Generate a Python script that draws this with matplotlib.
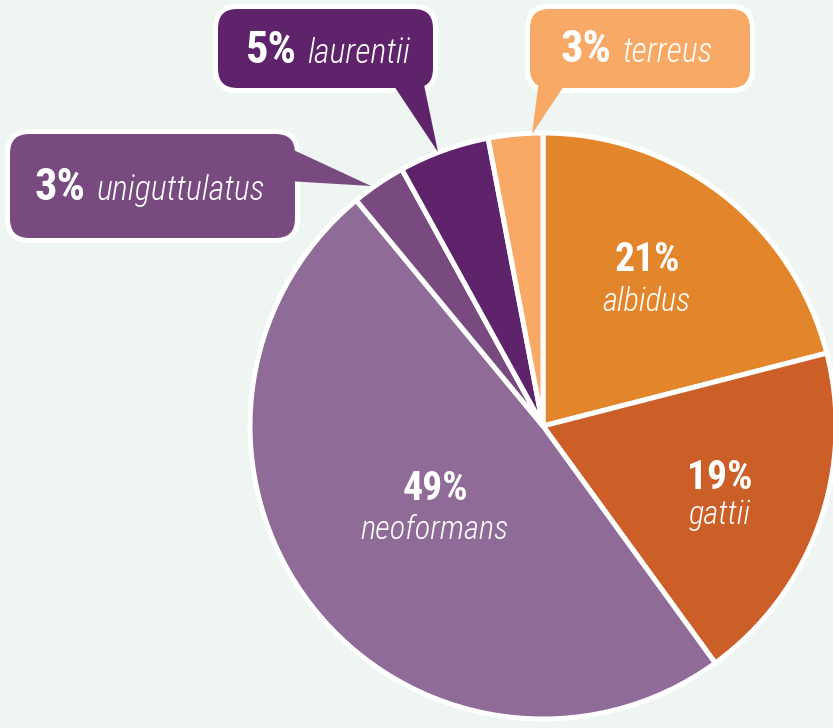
import matplotlib
matplotlib.use("Agg")
import matplotlib.pyplot as plt
from matplotlib.patches import FancyBboxPatch, Polygon

# species share, clockwise from 12 o'clock
species = ["albidus", "gattii", "neoformans", "uniguttulatus", "laurentii", "terreus"]
shares = [21, 19, 49, 3, 5, 3]
colors = ["#E3852A", "#CB5F27", "#8F6C98", "#784A80", "#5E236B", "#F7A965"]

W, H = 833, 728
BG = "#EEF5F2"
FONT = ["Roboto Condensed", "Roboto", "DejaVu Sans"]


def py(y):
    # pixel row (top-down) -> data y (bottom-up)
    return H - y


fig = plt.figure(figsize=(W / 100, H / 100), dpi=100, facecolor=BG)
ax = fig.add_axes([0, 0, 1, 1])
ax.set_facecolor(BG)

cx, cy, r = 543, py(426), 293
ax.pie(shares, colors=colors, startangle=90, counterclock=False,
       center=(cx, cy), radius=r,
       wedgeprops=dict(edgecolor="white", linewidth=3.6))

# labels inside the big slices: (x, baseline of %, baseline of name)
inside = {
    "albidus": (647, 271, 311),
    "gattii": (720, 489, 524),
    "neoformans": (435, 500, 539),
}
for name, (x, yb, yn) in inside.items():
    i = species.index(name)
    ax.text(x, py(yb), f"{shares[i]}%", ha="center", va="baseline",
            fontsize=28.5, fontweight="bold", color="white", family=FONT)
    ax.text(x, py(yn), name, ha="center", va="baseline",
            fontsize=23.5, fontstyle="italic", fontweight="light",
            color="white", family=FONT)

# callouts: inner box (x0, y0, x1, y1), split x, baseline, pointer (base1, base2, tip)
callouts = {
    "uniguttulatus": ((10, 134, 295, 238), 91, 200,
                      [(285, 146), (287, 181), (371, 186)]),
    "laurentii": ((218, 9, 433, 88), 302, 63,
                  [(390, 80), (423, 80), (438, 152)]),
    "terreus": ((530, 9, 750, 88), 617, 62,
                [(539, 80), (568, 80), (532, 134)]),
}
for name, ((x0, y0, x1, y1), xs, yb, ptr) in callouts.items():
    i = species.index(name)
    c = colors[i]
    box = FancyBboxPatch((x0 - 2.5, py(y1 + 2.5)), x1 - x0 + 5, y1 - y0 + 5,
                         boxstyle="round,pad=0,rounding_size=22",
                         facecolor=c, edgecolor="white", linewidth=3.6,
                         zorder=3)
    ax.add_patch(box)
    ax.add_patch(Polygon([(x, py(y)) for x, y in ptr], closed=True,
                         facecolor=c, edgecolor="none", zorder=4))
    ax.text(xs - 5, py(yb), f"{shares[i]}%", ha="right", va="baseline",
            fontsize=32, fontweight="bold", color="white", family=FONT,
            zorder=5)
    ax.text(xs + 5, py(yb), name, ha="left", va="baseline",
            fontsize=24.5, fontstyle="italic", fontweight="light",
            color="white", family=FONT, zorder=5)

ax.set_xlim(0, W)
ax.set_ylim(0, H)
ax.set_aspect("equal")
ax.axis("off")

fig.savefig("out.png", dpi=100, facecolor=BG)
